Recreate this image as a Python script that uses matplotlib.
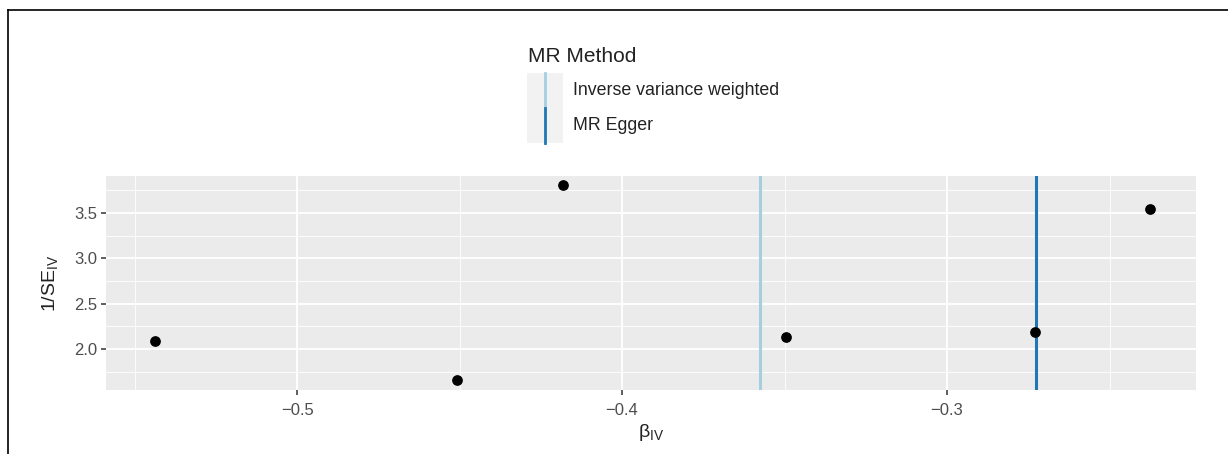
import matplotlib
matplotlib.use("Agg")
import matplotlib.pyplot as plt
from matplotlib.lines import Line2D
from matplotlib.patches import Rectangle

plt.rcParams['font.family'] = ['Liberation Sans', 'DejaVu Sans']

# Data
beta_iv = [-0.5437, -0.4508, -0.4182, -0.3495, -0.2729, -0.2375]
inv_se_iv = [2.088, 1.658, 3.809, 2.130, 2.190, 3.544]
methods = ["Inverse variance weighted", "MR Egger"]
method_estimates = [-0.3575, -0.2726]
method_colors = ["#a6cee3", "#1f78b4"]
x_ticks = [-0.5, -0.4, -0.3]
x_minor = [-0.55, -0.45, -0.35, -0.25]
y_ticks = [2.0, 2.5, 3.0, 3.5]
y_minor = [1.75, 2.25, 2.75, 3.25, 3.75]

W, H = 1228, 454
fig = plt.figure(figsize=(W / 100, H / 100), dpi=100)

ax = fig.add_axes([106 / W, 1 - 390 / H, (1196 - 106) / W, (390 - 176) / H])
ax.set_facecolor("#EBEBEB")
for s in ax.spines.values():
    s.set_visible(False)
ax.set_xlim(-0.5588, -0.2234)
ax.set_ylim(1.547, 3.908)
ax.set_xticks(x_ticks)
ax.set_xticklabels(["\u22120.5", "\u22120.4", "\u22120.3"])
ax.set_xticks(x_minor, minor=True)
ax.set_yticks(y_ticks)
ax.set_yticklabels(["2.0", "2.5", "3.0", "3.5"])
ax.set_yticks(y_minor, minor=True)
ax.grid(which="major", color="white", linewidth=1.3)
ax.grid(which="minor", color="white", linewidth=0.6)
ax.set_axisbelow(True)
ax.tick_params(axis="x", which="major", pad=6)
ax.tick_params(which="major", length=3.5, width=1.1, color="#333333",
               labelcolor="#4D4D4D", labelsize=12)
ax.tick_params(axis="y", which="major", pad=3)
ax.tick_params(which="minor", length=0)

for est, col in zip(method_estimates, method_colors):
    ax.axvline(est, color=col, linewidth=2.2, zorder=2)

ax.scatter(beta_iv, inv_se_iv, s=45, color="black", zorder=3)

ax.set_xlabel(r"$\mathregular{\beta_{IV}}$", fontsize=14, color="#222222", labelpad=3)
ax.set_ylabel(r"$\mathregular{1/SE_{IV}}$", fontsize=14, color="#222222", labelpad=10)

# Legend drawn manually
fig.text(528 / W, 1 - 56 / H, "MR Method", fontsize=15, color="#222222",
         va="center", ha="left")
key_x0, key_x1 = 527, 563
key_tops = [73, 108]
key_h = 35
for i, (m, col) in enumerate(zip(methods, method_colors)):
    top = key_tops[i]
    fig.patches.append(Rectangle((key_x0 / W, 1 - (top + key_h) / H),
                                 (key_x1 - key_x0) / W, key_h / H,
                                 transform=fig.transFigure,
                                 facecolor="#F2F2F2", edgecolor="none"))
    xm = (key_x0 + key_x1) / 2 / W
    fig.lines.append(Line2D([xm, xm], [1 - (top + key_h) / H, 1 - top / H],
                            transform=fig.transFigure, color=col, linewidth=2.0))
    fig.text(573 / W, 1 - (top + key_h / 2) / H, m, fontsize=12.8,
             color="#222222", va="center", ha="left")

# Outer frame lines (top and left)
fig.lines.append(Line2D([8 / W, 1], [1 - 10 / H, 1 - 10 / H],
                        transform=fig.transFigure, color="black", linewidth=1.2))
fig.lines.append(Line2D([8 / W, 8 / W], [0, 1 - 10 / H],
                        transform=fig.transFigure, color="black", linewidth=1.2))

fig.savefig("out.png", dpi=100)
